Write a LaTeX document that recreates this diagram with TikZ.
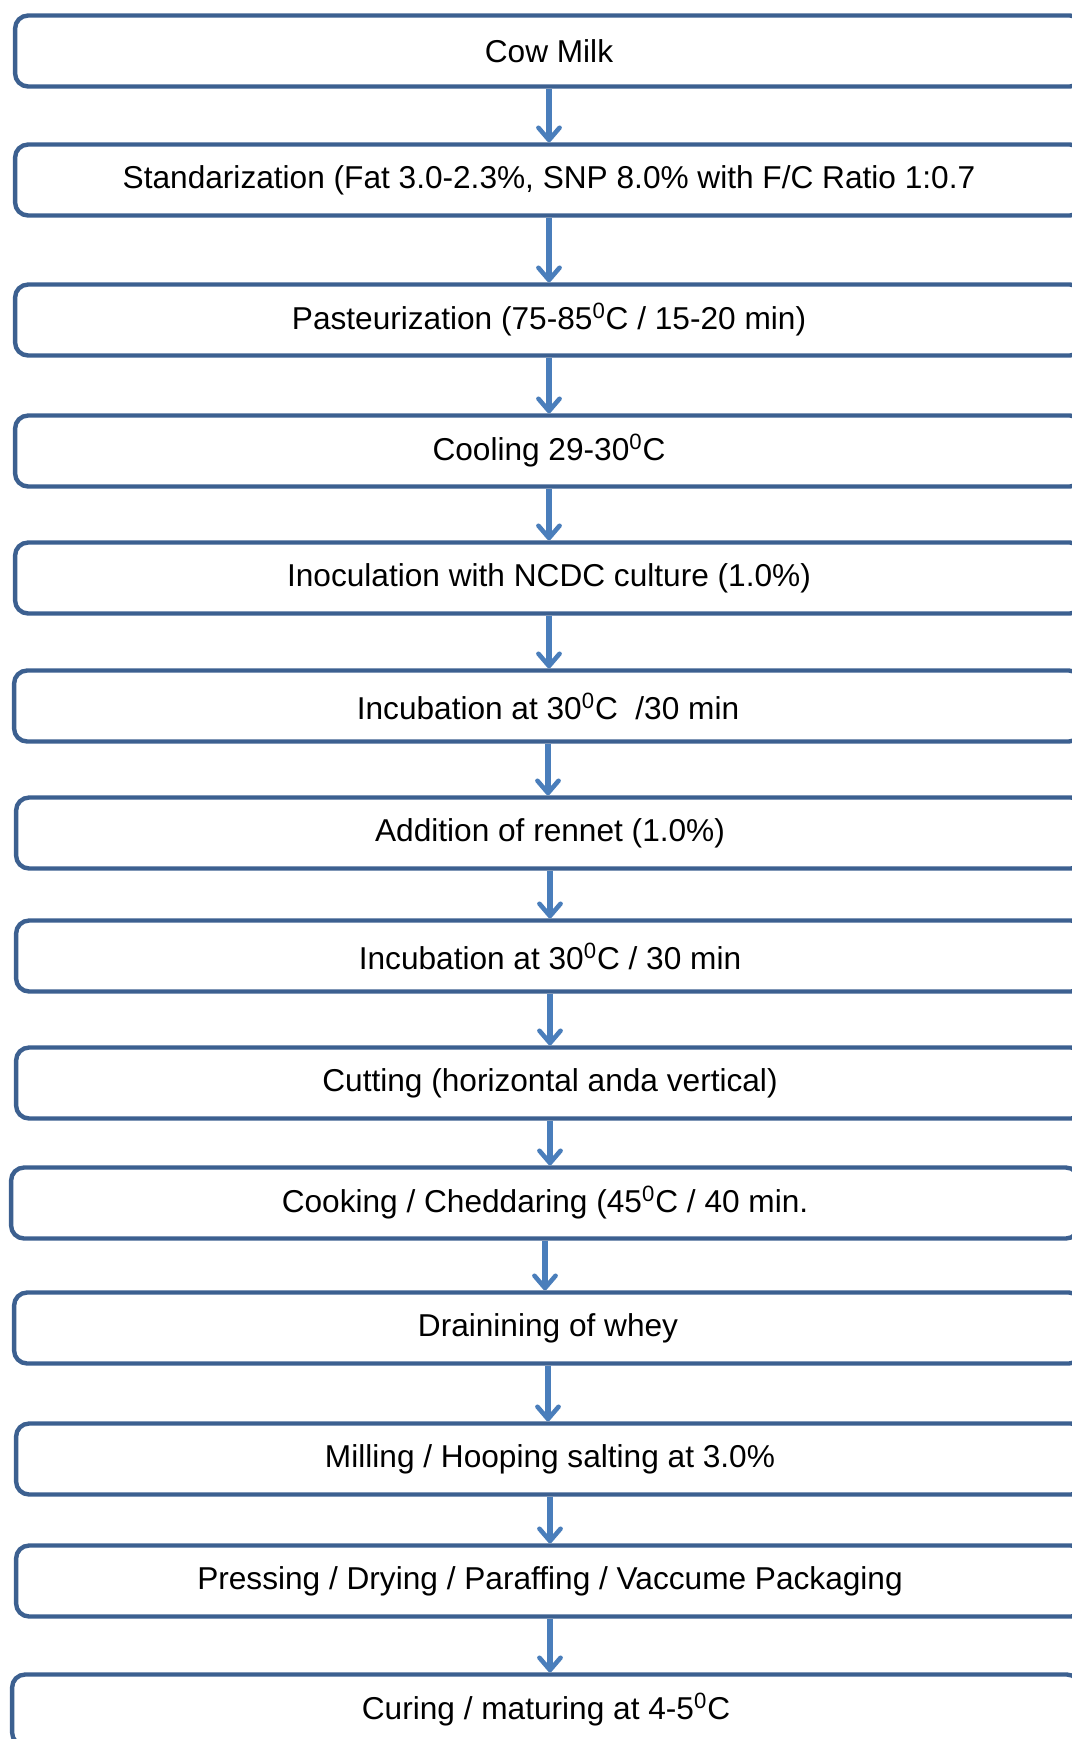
\documentclass[tikz,border=0pt]{standalone}
\usepackage{fontspec}
\setmainfont{Liberation Sans}
\usetikzlibrary{arrows.meta}
\definecolor{boxblue}{HTML}{3C6090}
\definecolor{arrowblue}{HTML}{4A7EBB}
\tikzset{
  stepbox/.style={draw=boxblue, line width=2.5pt, rounded corners=0.26cm,
    minimum width=21.36cm, minimum height=1.42cm, font=\fontsize{18}{20}\selectfont},
  flowarrow/.style={draw=arrowblue, line width=3.2pt,
    -{Straight Barb[length=7pt,width=12pt,line width=2.6pt,round]}}
}
\begin{document}
\begin{tikzpicture}[x=0.02cm,y=-0.02cm]
\useasboundingbox (0,0) rectangle (1072,1739);
\clip (0,0) rectangle (1072,1739);

\node[stepbox] (milk) at (549,51) {Cow Milk};
\node[stepbox] (stand) at (549,180) {Standarization (Fat 3.0-2.3\%, SNP 8.0\% with F/C Ratio 1:0.7};
\node[stepbox] (past) at (549,320) {Pasteurization (75-85\textsuperscript{0}C / 15-20 min)};
\node[stepbox] (cool) at (549,451) {Cooling 29-30\textsuperscript{0}C};
\node[stepbox] (inoc) at (549,578) {Inoculation with NCDC culture (1.0\%)};
\node[stepbox] (incA) at (548,706) {Incubation at 30\textsuperscript{0}C \ /30 min};
\node[stepbox] (rennet) at (550,833) {Addition of rennet (1.0\%)};
\node[stepbox] (incB) at (550,956) {Incubation at 30\textsuperscript{0}C / 30 min};
\node[stepbox] (cut) at (550,1083) {Cutting (horizontal anda vertical)};
\node[stepbox] (cook) at (545,1203) {Cooking / Cheddaring (45\textsuperscript{0}C / 40 min.};
\node[stepbox] (drain) at (548,1328) {Drainining of whey};
\node[stepbox] (mill) at (550,1459) {Milling / Hooping salting at 3.0\%};
\node[stepbox] (press) at (550,1581) {Pressing / Drying / Paraffing / Vaccume Packaging};
\node[stepbox] (cure) at (546,1710) {Curing / maturing at 4-5\textsuperscript{0}C};

% arrows between steps, straight down from the upper box
\draw[flowarrow] (milk.south) -- (milk.south |- stand.north);
\draw[flowarrow] (stand.south) -- (stand.south |- past.north);
\draw[flowarrow] (past.south) -- (past.south |- cool.north);
\draw[flowarrow] (cool.south) -- (cool.south |- inoc.north);
\draw[flowarrow] (inoc.south) -- (inoc.south |- incA.north);
\draw[flowarrow] (incA.south) -- (incA.south |- rennet.north);
\draw[flowarrow] (rennet.south) -- (rennet.south |- incB.north);
\draw[flowarrow] (incB.south) -- (incB.south |- cut.north);
\draw[flowarrow] (cut.south) -- (cut.south |- cook.north);
\draw[flowarrow] (cook.south) -- (cook.south |- drain.north);
\draw[flowarrow] (drain.south) -- (drain.south |- mill.north);
\draw[flowarrow] (mill.south) -- (mill.south |- press.north);
\draw[flowarrow] (press.south) -- (press.south |- cure.north);

\end{tikzpicture}
\end{document}
